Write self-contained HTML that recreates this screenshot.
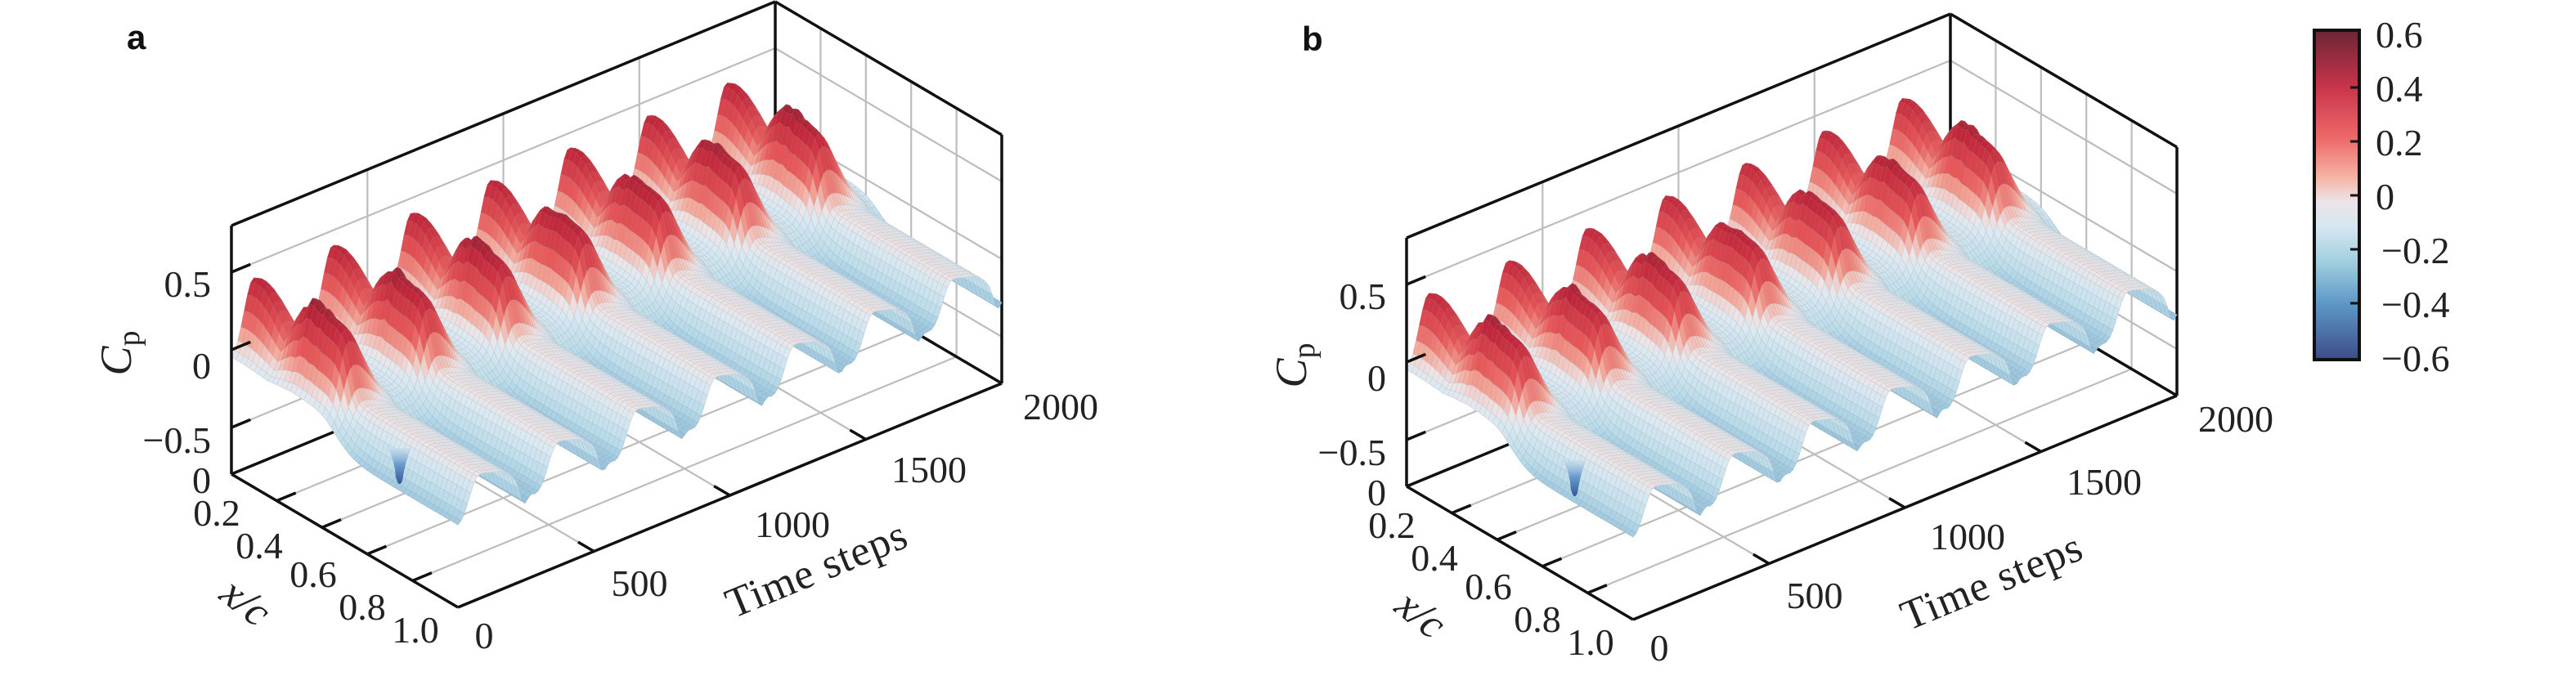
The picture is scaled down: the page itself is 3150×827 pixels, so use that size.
<!DOCTYPE html>
<html><head><meta charset="utf-8">
<style>
html,body{margin:0;padding:0;background:#fff;}
svg{display:block;}
text{font-family:"Liberation Serif",serif;fill:#222;}
.t{font-size:46px;}
</style></head>
<body>
<svg id="s" xmlns="http://www.w3.org/2000/svg" width="3150" height="827" viewBox="0 0 3150 827">
<defs>
<linearGradient id="cb" x1="0" y1="0" x2="0" y2="1">
<stop offset="0" stop-color="#6a2636"/>
<stop offset="0.17" stop-color="#c8344a"/>
<stop offset="0.33" stop-color="#ee6a6a"/>
<stop offset="0.45" stop-color="#f6b6a6"/>
<stop offset="0.52" stop-color="#ece4e8"/>
<stop offset="0.6" stop-color="#d4e6f0"/>
<stop offset="0.7" stop-color="#a2d0de"/>
<stop offset="0.83" stop-color="#5e98c8"/>
<stop offset="1" stop-color="#3c4c86"/>
</linearGradient>
<linearGradient id="sp" x1="0" y1="0" x2="0" y2="1">
<stop offset="0" stop-color="#c4dcea" stop-opacity="0.6"/>
<stop offset="0.45" stop-color="#6a9ccc"/>
<stop offset="1" stop-color="#34579a"/>
</linearGradient>
</defs>
<g id="pa"></g>
<g id="pb" transform="translate(1437,15)"></g>
<text x="155" y="60" style="font-family:'Liberation Sans',sans-serif;font-weight:bold;font-size:42px;fill:#111">a</text>
<text x="1592" y="62" style="font-family:'Liberation Sans',sans-serif;font-weight:bold;font-size:42px;fill:#111">b</text>
<rect x="2830" y="37" width="55" height="403" fill="url(#cb)" stroke="#111" stroke-width="4"/>
<g stroke="#111" stroke-width="3">
<line x1="2874" y1="107" x2="2885" y2="107"/><line x1="2874" y1="173" x2="2885" y2="173"/>
<line x1="2874" y1="239" x2="2885" y2="239"/><line x1="2874" y1="305" x2="2885" y2="305"/>
<line x1="2874" y1="371" x2="2885" y2="371"/>
</g>
<g class="t">
<text x="2905" y="58">0.6</text>
<text x="2905" y="124">0.4</text>
<text x="2905" y="190">0.2</text>
<text x="2905" y="256">0</text>
<text x="2912" y="322">−0.2</text>
<text x="2912" y="388">−0.4</text>
<text x="2912" y="454">−0.6</text>
</g>
</svg>
<script>
(function(){
var NS="http://www.w3.org/2000/svg";
function P(x,t,c){return [283+x*277+t/2000*665, 580+x*163-t/2000*274-(c+0.8)*190];}
function el(g,name,attrs,txt){var e=document.createElementNS(NS,name);for(var k in attrs)e.setAttribute(k,attrs[k]);if(txt!==undefined)e.textContent=txt;g.appendChild(e);return e;}
function line(g,a,b,col,w){el(g,"line",{x1:a[0].toFixed(1),y1:a[1].toFixed(1),x2:b[0].toFixed(1),y2:b[1].toFixed(1),stroke:col,"stroke-width":w});}
function sig(z){return 1/(1+Math.exp(-z));}
var stops=[[-0.6,[60,76,134]],[-0.4,[110,165,205]],[-0.2,[186,220,234]],[-0.05,[220,233,242]],[0,[238,228,230]],[0.08,[244,168,154]],[0.2,[232,88,90]],[0.4,[194,38,58]],[0.6,[106,30,46]]];
function col(c){if(c<=stops[0][0])return stops[0][1];for(var i=1;i<stops.length;i++){if(c<=stops[i][0]){var a=stops[i-1],b=stops[i],f=(c-a[0])/(b[0]-a[0]);return [0,1,2].map(function(k){return Math.round(a[1][k]+f*(b[1][k]-a[1][k]));});}}return stops[stops.length-1][1];}
function hash(a,b){var s=Math.sin(a*12.9898+b*78.233)*43758.5453;return s-Math.floor(s);}
function Cp(x,t,amp){
  var Pd=290,ph=((t+20)%Pd+Pd)%Pd/Pd;
  var d=ph-0.35;
  var g=d<0?Math.exp(-(d/0.17)*(d/0.17)):Math.exp(-(d/0.3)*(d/0.3));
  var k=Math.floor((t+20)/Pd);
  var hi=Math.max(0.42*Math.exp(-Math.pow((x-0.03)/0.15,2)),0.44*sig((x-0.17)/0.025)*sig((0.44-x)/0.014));
  if(x>0.2&&x<0.38) hi+=0.08*hash(Math.round(x*50),k)*Math.exp(-Math.pow((x-0.28)/0.05,2));
  hi*=amp;
  var sm=sig((x-0.47)/0.04);
  var low=-0.08-0.1*sm+0.11*sm*Math.cos(2*Math.PI*(ph-0.6))-0.1*sm*Math.exp(-Math.pow((ph-0.9)/0.06,2));
  var c=low+g*(hi-low);
  return Math.max(-0.79,Math.min(0.78,c));
}
function panel(g,amp){
  var gc="#bdbdbd";
  [500,1000,1500].forEach(function(t){line(g,P(0,t,-0.8),P(0,t,0.8),gc,2.2);line(g,P(0,t,-0.8),P(1,t,-0.8),gc,2.2);});
  [-0.5,0,0.5].forEach(function(c){line(g,P(0,0,c),P(0,2000,c),gc,2.2);line(g,P(0,2000,c),P(1,2000,c),gc,2.2);});
  [0.2,0.4,0.6,0.8].forEach(function(x){line(g,P(x,2000,-0.8),P(x,2000,0.8),gc,2.2);line(g,P(x,0,-0.8),P(x,2000,-0.8),gc,2.2);});
  var k="#111",w=3.5;
  line(g,P(0,0,-0.8),P(0,2000,-0.8),k,w);
  line(g,P(0,2000,-0.8),P(1,2000,-0.8),k,w);
  line(g,P(0,2000,-0.8),P(0,2000,0.8),k,w);
  line(g,P(0,0,0.8),P(0,2000,0.8),k,w);
  line(g,P(0,2000,0.8),P(1,2000,0.8),k,w);
  line(g,P(1,2000,-0.8),P(1,2000,0.8),k,w);
  var NT=170,NX=50,quads=[],V=[],a,b;
  for(a=0;a<=NT;a++){V[a]=[];for(b=0;b<=NX;b++){var t=a*2000/NT,x=b/NX;V[a][b]=[t,x,Cp(x,t,amp)];}}
  for(a=0;a<NT;a++)for(b=0;b<NX;b++){quads.push([a,b,(a+0.5)/NT-(b+0.5)/NX]);}
  quads.sort(function(p,q){return q[2]-p[2];});
  var frag=document.createDocumentFragment();
  quads.forEach(function(q){
    var a=q[0],b=q[1],pts=[V[a][b],V[a+1][b],V[a+1][b+1],V[a][b+1]];
    var cm=(pts[0][2]+pts[1][2]+pts[2][2]+pts[3][2])/4;
    var cc=col(cm);
    var s=pts.map(function(v){var p=P(v[1],v[0],v[2]);return p[0].toFixed(1)+","+p[1].toFixed(1);}).join(" ");
    var e=document.createElementNS(NS,"polygon");
    e.setAttribute("points",s);
    e.setAttribute("fill","rgb("+cc.join(",")+")");
    e.setAttribute("stroke","rgb("+cc.map(function(v){return Math.round(v*0.72+40);}).join(",")+")");
    e.setAttribute("stroke-width","0.6");
    frag.appendChild(e);
  });
  g.appendChild(frag);
  el(g,"path",{d:"M474,548 Q482,560 484,584 Q488,598 492,588 Q496,562 503,548 Z",fill:"url(#sp)"});
  line(g,P(0,0,-0.8),P(0,0,0.8),k,w);
  line(g,P(0,0,-0.8),P(1,0,-0.8),k,w);
  line(g,P(1,0,-0.8),P(1,2000,-0.8),k,w);
  [-0.5,0,0.5].forEach(function(c){line(g,P(0,0,c),P(0,70,c),k,w);});
  [0.2,0.4,0.6,0.8].forEach(function(x){line(g,P(x,0,-0.8),P(x,70,-0.8),k,w);});
  [500,1000,1500].forEach(function(t){line(g,P(1,t,-0.8),P(0.93,t,-0.8),k,w);});
  el(g,"text",{"class":"t","text-anchor":"end",x:258,y:363},"0.5");
  el(g,"text",{"class":"t","text-anchor":"end",x:258,y:463},"0");
  el(g,"text",{"class":"t","text-anchor":"end",x:258,y:554},"−0.5");
  el(g,"text",{"class":"t","text-anchor":"end",x:258,y:603},"0");
  [["0.2",265,643],["0.4",317,683],["0.6",383,718],["0.8",443,758],["1.0",508,786]].forEach(function(v){el(g,"text",{"class":"t","text-anchor":"middle",x:v[1],y:v[2]},v[0]);});
  [["0",592,793],["500",782,729],["1000",969,657],["1500",1136,590],["2000",1297,513]].forEach(function(v){el(g,"text",{"class":"t","text-anchor":"middle",x:v[1],y:v[2]},v[0]);});
  var cp=el(g,"text",{x:0,y:0,transform:"translate(160,432) rotate(-90)","text-anchor":"middle",style:"font-size:54px"});
  el(cp,"tspan",{style:"font-style:italic"},"C");
  el(cp,"tspan",{dy:"10",style:"font-size:38px"},"p");
  el(g,"text",{x:0,y:0,transform:"translate(290,750) rotate(38)","text-anchor":"middle",style:"font-size:52px;font-style:italic"},"x/c");
  el(g,"text",{x:0,y:0,transform:"translate(1005,712) rotate(-22.4)","text-anchor":"middle",style:"font-size:52px;letter-spacing:1px"},"Time steps");
}
panel(document.getElementById("pa"),1.0);
panel(document.getElementById("pb"),0.95);
})();
</script>
</body></html>
